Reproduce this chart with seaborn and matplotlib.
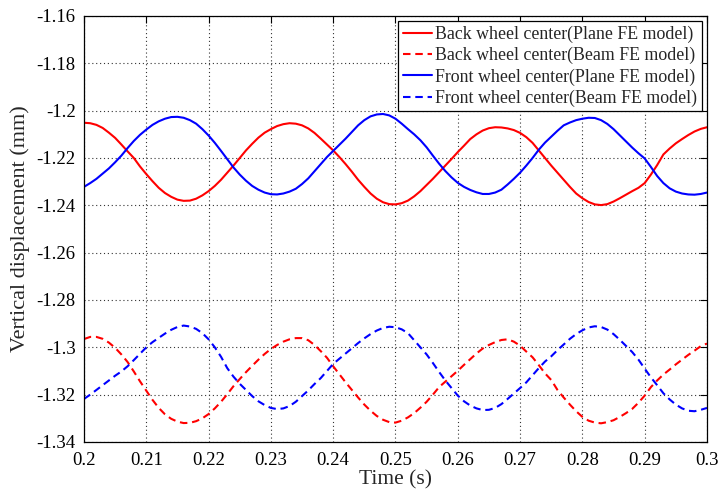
import numpy as np
import pandas as pd
import matplotlib
matplotlib.use("Agg")
import matplotlib.pyplot as plt
import seaborn as sns

# Sample times (s), shared by all four series
time_s = [0.200, 0.201, 0.202, 0.203, 0.204, 0.205, 0.206, 0.207, 0.208, 0.209,
          0.210, 0.211, 0.212, 0.213, 0.214, 0.215, 0.216, 0.217, 0.218, 0.219,
          0.220, 0.221, 0.222, 0.223, 0.224, 0.225, 0.226, 0.227, 0.228, 0.229,
          0.230, 0.231, 0.232, 0.233, 0.234, 0.235, 0.236, 0.237, 0.238, 0.239,
          0.240, 0.241, 0.242, 0.243, 0.244, 0.245, 0.246, 0.247, 0.248, 0.249,
          0.250, 0.251, 0.252, 0.253, 0.254, 0.255, 0.256, 0.257, 0.258, 0.259,
          0.260, 0.261, 0.262, 0.263, 0.264, 0.265, 0.266, 0.267, 0.268, 0.269,
          0.270, 0.271, 0.272, 0.273, 0.274, 0.275, 0.276, 0.277, 0.278, 0.279,
          0.280, 0.281, 0.282, 0.283, 0.284, 0.285, 0.286, 0.287, 0.288, 0.289,
          0.290, 0.291, 0.292, 0.293, 0.294, 0.295, 0.296, 0.297, 0.298, 0.299,
          0.300]

# Back wheel center, plane FE model (mm)
back_plane = [-1.2051, -1.2053, -1.2060, -1.2073, -1.2093, -1.2115, -1.2143, -1.2172, -1.2200, -1.2236,
              -1.2268, -1.2298, -1.2326, -1.2348, -1.2364, -1.2376, -1.2381, -1.2380, -1.2372, -1.2358,
              -1.2340, -1.2318, -1.2292, -1.2262, -1.2232, -1.2200, -1.2168, -1.2140, -1.2114, -1.2093,
              -1.2078, -1.2065, -1.2057, -1.2053, -1.2055, -1.2062, -1.2075, -1.2094, -1.2118, -1.2143,
              -1.2168, -1.2196, -1.2226, -1.2258, -1.2292, -1.2322, -1.2350, -1.2372, -1.2387, -1.2395,
              -1.2396, -1.2391, -1.2380, -1.2362, -1.2340, -1.2314, -1.2288, -1.2260, -1.2232, -1.2204,
              -1.2175, -1.2148, -1.2120, -1.2100, -1.2084, -1.2074, -1.2070, -1.2071, -1.2075, -1.2082,
              -1.2094, -1.2112, -1.2136, -1.2168, -1.2200, -1.2232, -1.2262, -1.2292, -1.2322, -1.2350,
              -1.2370, -1.2386, -1.2396, -1.2399, -1.2395, -1.2384, -1.2370, -1.2355, -1.2340, -1.2326,
              -1.2306, -1.2270, -1.2230, -1.2185, -1.2160, -1.2138, -1.2120, -1.2103, -1.2088, -1.2077,
              -1.2070]

# Back wheel center, beam FE model (mm)
back_beam = [-1.2965, -1.2956, -1.2956, -1.2964, -1.2980, -1.3002, -1.3030, -1.3062, -1.3102, -1.3144,
             -1.3183, -1.3222, -1.3256, -1.3283, -1.3302, -1.3314, -1.3320, -1.3319, -1.3312, -1.3300,
             -1.3282, -1.3258, -1.3230, -1.3198, -1.3164, -1.3134, -1.3105, -1.3078, -1.3052, -1.3028,
             -1.3007, -1.2990, -1.2976, -1.2966, -1.2961, -1.2961, -1.2970, -1.2990, -1.3016, -1.3044,
             -1.3080, -1.3114, -1.3148, -1.3180, -1.3212, -1.3242, -1.3268, -1.3290, -1.3306, -1.3316,
             -1.3318, -1.3310, -1.3296, -1.3278, -1.3255, -1.3230, -1.3200, -1.3168, -1.3145, -1.3122,
             -1.3099, -1.3074, -1.3050, -1.3026, -1.3005, -1.2990, -1.2978, -1.2969, -1.2966, -1.2976,
             -1.2993, -1.3018, -1.3042, -1.3075, -1.3110, -1.3138, -1.3180, -1.3212, -1.3242, -1.3270,
             -1.3294, -1.3310, -1.3318, -1.3321, -1.3316, -1.3308, -1.3294, -1.3278, -1.3260, -1.3234,
             -1.3204, -1.3168, -1.3140, -1.3115, -1.3094, -1.3072, -1.3052, -1.3032, -1.3014, -1.2995,
             -1.2984]

# Front wheel center, plane FE model (mm)
front_plane = [-1.2322, -1.2306, -1.2288, -1.2266, -1.2244, -1.2218, -1.2190, -1.2158, -1.2128, -1.2102,
               -1.2080, -1.2060, -1.2045, -1.2034, -1.2027, -1.2026, -1.2030, -1.2040, -1.2055, -1.2078,
               -1.2105, -1.2136, -1.2170, -1.2205, -1.2240, -1.2270, -1.2296, -1.2318, -1.2334, -1.2346,
               -1.2353, -1.2354, -1.2350, -1.2342, -1.2330, -1.2310, -1.2286, -1.2256, -1.2226, -1.2196,
               -1.2170, -1.2144, -1.2118, -1.2090, -1.2062, -1.2040, -1.2024, -1.2016, -1.2014, -1.2020,
               -1.2034, -1.2055, -1.2078, -1.2100, -1.2125, -1.2155, -1.2190, -1.2224, -1.2255, -1.2282,
               -1.2305, -1.2322, -1.2335, -1.2345, -1.2352, -1.2352, -1.2346, -1.2334, -1.2312, -1.2288,
               -1.2262, -1.2232, -1.2200, -1.2165, -1.2135, -1.2110, -1.2085, -1.2062, -1.2050, -1.2040,
               -1.2034, -1.2030, -1.2031, -1.2040, -1.2056, -1.2078, -1.2104, -1.2130, -1.2156, -1.2180,
               -1.2202, -1.2238, -1.2276, -1.2306, -1.2328, -1.2342, -1.2350, -1.2354, -1.2355, -1.2352,
               -1.2346]

# Front wheel center, beam FE model (mm)
front_beam = [-1.3218, -1.3200, -1.3180, -1.3160, -1.3140, -1.3120, -1.3102, -1.3080, -1.3054, -1.3027,
              -1.3000, -1.2978, -1.2960, -1.2942, -1.2926, -1.2914, -1.2908, -1.2912, -1.2922, -1.2940,
              -1.2966, -1.3000, -1.3040, -1.3088, -1.3124, -1.3154, -1.3180, -1.3206, -1.3228, -1.3244,
              -1.3256, -1.3261, -1.3258, -1.3248, -1.3230, -1.3206, -1.3182, -1.3155, -1.3130, -1.3100,
              -1.3070, -1.3048, -1.3026, -1.3004, -1.2982, -1.2962, -1.2944, -1.2929, -1.2918, -1.2913,
              -1.2915, -1.2924, -1.2940, -1.2970, -1.3000, -1.3030, -1.3066, -1.3104, -1.3140, -1.3172,
              -1.3204, -1.3228, -1.3246, -1.3258, -1.3265, -1.3264, -1.3256, -1.3240, -1.3218, -1.3195,
              -1.3172, -1.3148, -1.3118, -1.3088, -1.3060, -1.3038, -1.3012, -1.2988, -1.2964, -1.2944,
              -1.2928, -1.2916, -1.2911, -1.2914, -1.2925, -1.2944, -1.2968, -1.2994, -1.3020, -1.3052,
              -1.3090, -1.3127, -1.3160, -1.3194, -1.3220, -1.3242, -1.3258, -1.3268, -1.3270, -1.3264,
              -1.3256]

series_labels = ["Back wheel center(Plane FE model)",
                 "Back wheel center(Beam FE model)",
                 "Front wheel center(Plane FE model)",
                 "Front wheel center(Beam FE model)"]

x_ticks = [0.20, 0.21, 0.22, 0.23, 0.24, 0.25, 0.26, 0.27, 0.28, 0.29, 0.30]
x_tick_labels = ["0.2", "0.21", "0.22", "0.23", "0.24", "0.25", "0.26", "0.27", "0.28", "0.29", "0.3"]
y_ticks = [-1.34, -1.32, -1.30, -1.28, -1.26, -1.24, -1.22, -1.20, -1.18, -1.16]
y_tick_labels = ["-1.34", "-1.32", "-1.3", "-1.28", "-1.26", "-1.24", "-1.22", "-1.2", "-1.18", "-1.16"]

sns.set_style("white")
plt.rcParams["font.family"] = ["Liberation Serif", "DejaVu Serif"]
plt.rcParams["axes.unicode_minus"] = False

fig = plt.figure(figsize=(7.19, 5.0), dpi=100)
ax = fig.add_axes([0.1168, 0.116, 0.8665, 0.852])

series = [
    (back_plane, series_labels[0], "#ff0000", False),
    (back_beam, series_labels[1], "#ff0000", True),
    (front_plane, series_labels[2], "#0000ff", False),
    (front_beam, series_labels[3], "#0000ff", True),
]

for values, lab, col, dashed in series:
    df = pd.DataFrame({"t": time_s, "d": values})
    kws = dict(color=col, linewidth=1.5, label=lab)
    if dashed:
        kws["dashes"] = (3.6, 2.3)
    sns.lineplot(data=df, x="t", y="d", ax=ax, estimator=None, sort=False,
                 legend=False, **kws)

ax.set_xlim(0.2, 0.3)
ax.set_ylim(-1.34, -1.16)
ax.set_xticks(x_ticks)
ax.set_xticklabels(x_tick_labels)
ax.set_yticks(y_ticks)
ax.set_yticklabels(y_tick_labels)

ax.grid(True, linestyle=(0, (1, 2.5)), color="#333333", linewidth=0.8)
for s in ax.spines.values():
    s.set_visible(True)
    s.set_color("black")
    s.set_linewidth(0.9)
ax.tick_params(direction="in", length=5, width=0.8, top=True, right=True,
               labelsize=13.5, colors="black", pad=6)
ax.tick_params(axis="x", pad=7)

ax.set_xlabel("Time (s)", fontsize=15.5, labelpad=1)
ax.set_ylabel("Vertical displacement (mm)", fontsize=16, labelpad=5)

leg = ax.legend(loc="upper right", fontsize=12.9, frameon=True, fancybox=False,
                edgecolor="black", framealpha=1, borderpad=0.25, labelspacing=0.22,
                handlelength=1.6, handletextpad=0.2, borderaxespad=0.3)
leg.get_frame().set_linewidth(0.9)

fig.savefig("out.png", dpi=100)
